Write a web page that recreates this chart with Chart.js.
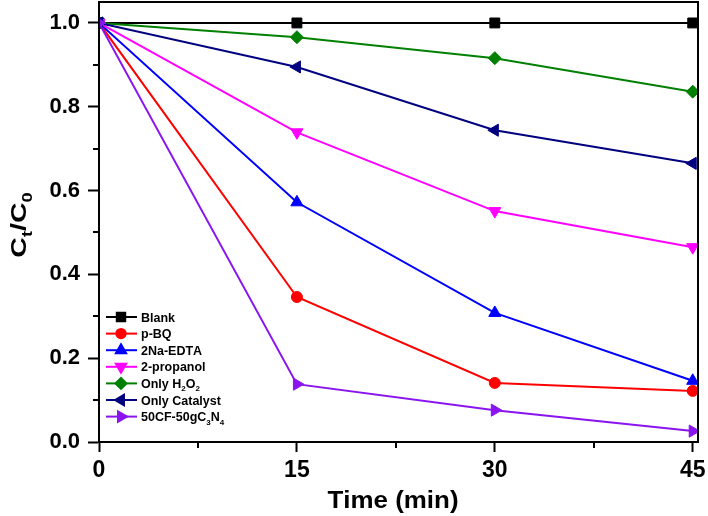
<!DOCTYPE html>
<html>
<head>
<meta charset="utf-8">
<script src="https://cdn.jsdelivr.net/npm/chart.js@4/dist/chart.umd.min.js"></script>
<style>
    html, body { margin: 0; padding: 0; background: #fff; }
    #wrap { width: 708px; height: 516px; }
</style>
</head>
<body>
<div id="wrap"><canvas id="chart" width="708" height="516"></canvas></div>
<script>
// Data
const times = [0, 15, 30, 45];
const xTicks = [0, 15, 30, 45];
const yTicks = [0, 0.2, 0.4, 0.6, 0.8, 1.0];

const blank = [1, 1, 1, 1];
const pBQ = [1, 0.346, 0.141, 0.122];
const naEDTA = [1, 0.572, 0.308, 0.146];
const propanol = [1, 0.739, 0.551, 0.465];
const onlyH2O2 = [1, 0.966, 0.916, 0.836];
const onlyCatalyst = [1, 0.895, 0.744, 0.665];
const composite = [1, 0.138, 0.076, 0.026];

// "_x" means x is a subscript
const seriesNames = ['Blank', 'p-BQ', '2Na-EDTA', '2-propanol', 'Only H_2O_2', 'Only Catalyst', '50CF-50gC_3N_4'];
const seriesValues = [blank, pBQ, naEDTA, propanol, onlyH2O2, onlyCatalyst, composite];
const seriesColors = ['#000000', '#FF0000', '#0000FF', '#FF00FF', '#008000', '#000080', '#8A14F0'];
const seriesMarkers = [
    { style: 'rect', rotation: 0, radius: 7 },
    { style: 'circle', rotation: 0, radius: 5.5 },
    { style: 'triangle', rotation: 0, radius: 7 },
    { style: 'triangle', rotation: 180, radius: 7 },
    { style: 'rectRot', rotation: 0, radius: 6.5 },
    { style: 'triangle', rotation: -90, radius: 7 },
    { style: 'triangle', rotation: 90, radius: 7 }
];

const FONT = "'Liberation Sans', Arial, sans-serif";

// draw text where "_c" puts c as subscript
function drawRich(ctx, text, x, y, size, align) {
    const parts = [];
    for (let i = 0; i < text.length; i++) {
        if (text[i] === '_' && i + 1 < text.length) {
            parts.push({ t: text[i + 1], sub: true });
            i++;
        } else {
            parts.push({ t: text[i], sub: false });
        }
    }
    const subSize = Math.round(size * 0.65);
    let total = 0;
    parts.forEach(p => {
        ctx.font = 'bold ' + (p.sub ? subSize : size) + 'px ' + FONT;
        p.w = ctx.measureText(p.t).width;
        total += p.w;
    });
    let cx = align === 'center' ? x - total / 2 : x;
    ctx.textBaseline = 'alphabetic';
    ctx.textAlign = 'left';
    parts.forEach(p => {
        ctx.font = 'bold ' + (p.sub ? subSize : size) + 'px ' + FONT;
        ctx.fillText(p.t, cx, p.sub ? y + size * 0.28 : y);
        cx += p.w;
    });
}

function noPad(scale) {
    scale.paddingTop = 0;
    scale.paddingBottom = 0;
    scale.paddingLeft = 0;
    scale.paddingRight = 0;
}

const decorPlugin = {
    id: 'decor',
    afterDraw(chart) {
        const ctx = chart.ctx;
        const area = chart.chartArea;
        const xs = chart.scales.x;
        const ys = chart.scales.y;
        ctx.save();
        ctx.strokeStyle = '#000';
        ctx.fillStyle = '#000';
        ctx.lineWidth = 2;

        // frame
        ctx.strokeRect(area.left, area.top, area.right - area.left, area.bottom - area.top);

        // minor ticks
        ctx.beginPath();
        [0.1, 0.3, 0.5, 0.7, 0.9].forEach(v => {
            const py = Math.round(ys.getPixelForValue(v));
            ctx.moveTo(area.left - 6, py);
            ctx.lineTo(area.left, py);
        });
        [7.5, 22.5, 37.5].forEach(v => {
            const px = Math.round(xs.getPixelForValue(v));
            ctx.moveTo(px, area.bottom);
            ctx.lineTo(px, area.bottom + 6);
        });
        ctx.stroke();

        // axis titles
        ctx.save();
        ctx.translate(393, 508);
        ctx.scale(1.08, 1);
        drawRich(ctx, 'Time (min)', 0, 0, 24, 'center');
        ctx.restore();

        ctx.save();
        ctx.translate(26, 225);
        ctx.rotate(-Math.PI / 2);
        ctx.scale(1.3, 1);
        drawRich(ctx, 'C_t/C_0', 0, 0, 22, 'center');
        ctx.restore();

        // legend inside plot, lower left
        seriesNames.forEach((name, i) => {
            const ly = 317 + i * 16.6;
            ctx.strokeStyle = seriesColors[i];
            ctx.fillStyle = seriesColors[i];
            ctx.lineWidth = 2;
            ctx.beginPath();
            ctx.moveTo(106, ly);
            ctx.lineTo(137, ly);
            ctx.stroke();
            Chart.helpers.drawPoint(ctx, {
                pointStyle: seriesMarkers[i].style,
                rotation: seriesMarkers[i].rotation,
                radius: seriesMarkers[i].radius * 0.85,
                borderWidth: 1
            }, 121, ly);
            ctx.fillStyle = '#000';
            drawRich(ctx, name, 141, ly + 4.5, 12.5, 'left');
        });
        ctx.restore();
    }
};

const datasets = seriesValues.map((vals, i) => ({
    label: seriesNames[i],
    data: times.map((t, k) => ({ x: t, y: vals[k] })),
    borderColor: seriesColors[i],
    backgroundColor: seriesColors[i],
    borderWidth: 2,
    pointStyle: seriesMarkers[i].style,
    pointRotation: seriesMarkers[i].rotation,
    pointRadius: seriesMarkers[i].radius,
    pointBorderWidth: 1,
    tension: 0,
    order: seriesNames.length - 1 - i
}));

new Chart(document.getElementById('chart'), {
    type: 'line',
    data: { datasets: datasets },
    options: {
        responsive: false,
        animation: false,
        layout: { autoPadding: false, padding: { top: 2, right: 10, left: 0, bottom: 0 } },
        plugins: {
            legend: { display: false },
            tooltip: { enabled: false }
        },
        scales: {
            x: {
                type: 'linear',
                min: 0,
                max: 45.4,
                afterBuildTicks: scale => { scale.ticks = xTicks.map(v => ({ value: v })); },
                afterFit: scale => { scale.height = 74; noPad(scale); },
                grid: { drawOnChartArea: false, drawTicks: true, tickLength: 10, tickColor: '#000', tickWidth: 2 },
                border: { display: true, color: '#000', width: 2 },
                ticks: {
                    color: '#000',
                    padding: 5,
                    maxRotation: 0,
                    font: { family: FONT, size: 23, weight: 'bold' },
                    callback: v => String(v)
                }
            },
            y: {
                type: 'linear',
                min: 0,
                max: 1.05,
                afterBuildTicks: scale => { scale.ticks = yTicks.map(v => ({ value: v })); },
                afterFit: scale => { scale.width = 99; noPad(scale); },
                grid: { drawOnChartArea: false, drawTicks: true, tickLength: 11, tickColor: '#000', tickWidth: 2 },
                border: { display: true, color: '#000', width: 2 },
                ticks: {
                    color: '#000',
                    padding: 8,
                    font: { family: FONT, size: 22, weight: 'bold' },
                    callback: v => v.toFixed(1)
                }
            }
        }
    },
    plugins: [decorPlugin]
});
</script>
</body>
</html>
